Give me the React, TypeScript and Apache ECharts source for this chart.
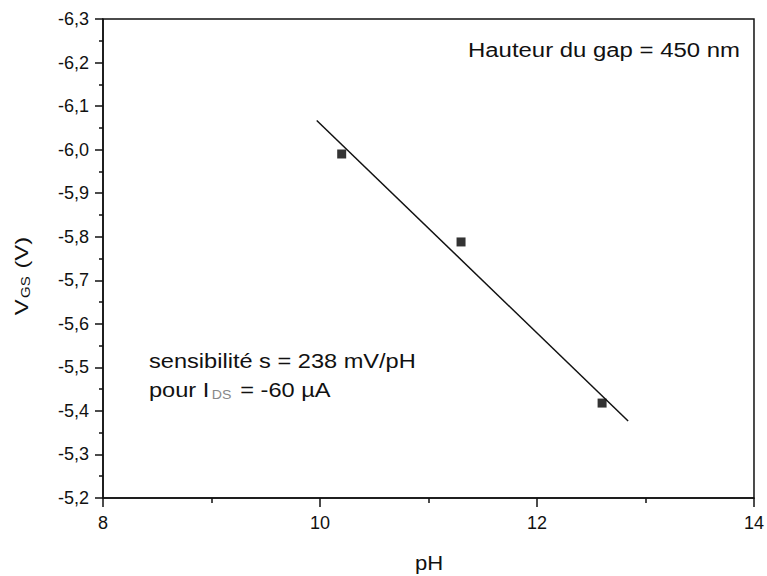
import React, { useEffect, useRef } from "react";
import * as echarts from "echarts";

const pH = [10.2, 11.3, 12.6];
const vgs = [-5.99, -5.788, -5.418];
const fitPH = [9.97, 12.84];
const fitVgs = [-6.067, -5.377];
const xTicks = { min: 8, max: 14, interval: 2 };
const yTicks = { min: -6.3, max: -5.2, interval: 0.1 };

const FONT = "'Liberation Sans', Arial, sans-serif";

export default function App() {
  const ref = useRef<HTMLDivElement>(null);
  useEffect(() => {
    if (!ref.current) return;
    const chart = echarts.init(ref.current, undefined, { renderer: "svg" });
    chart.setOption({
      animation: false,
      backgroundColor: "#fff",
      textStyle: { fontFamily: FONT },
      grid: {
        left: 103,
        right: 12,
        top: 19,
        bottom: 78,
        show: true,
        borderColor: "#111",
        borderWidth: 1.5,
        backgroundColor: "transparent",
      },
      xAxis: {
        type: "value",
        min: xTicks.min,
        max: xTicks.max,
        interval: xTicks.interval,
        axisLine: { show: true, lineStyle: { color: "#111", width: 1.5 } },
        axisTick: { show: true, length: 9, lineStyle: { color: "#111", width: 1.5 } },
        minorTick: { show: true, splitNumber: 2, length: 5, lineStyle: { color: "#111", width: 1.5 } },
        splitLine: { show: false },
        axisLabel: { color: "#111", fontSize: 18, margin: 16, fontFamily: FONT },
      },
      yAxis: {
        type: "value",
        inverse: true,
        min: yTicks.min,
        max: yTicks.max,
        interval: yTicks.interval,
        axisLine: { show: true, lineStyle: { color: "#111", width: 1.5 } },
        axisTick: { show: true, length: 8, lineStyle: { color: "#111", width: 1.5 } },
        minorTick: { show: true, splitNumber: 2, length: 4, lineStyle: { color: "#111", width: 1.5 } },
        splitLine: { show: false },
        axisLabel: {
          color: "#111",
          fontSize: 18,
          margin: 14,
          fontFamily: FONT,
          formatter: (v: number) => v.toFixed(1).replace(".", ","),
        },
      },
      series: [
        {
          type: "line",
          data: fitPH.map((x, i) => [x, fitVgs[i]]),
          showSymbol: false,
          symbol: "none",
          lineStyle: { color: "#111", width: 1.5 },
          silent: true,
        },
        {
          type: "scatter",
          data: pH.map((x, i) => [x, vgs[i]]),
          symbol: "rect",
          symbolSize: 9,
          itemStyle: { color: "#000" },
        },
      ],
      graphic: [
        {
          type: "text",
          x: 429,
          y: 563,
          scaleX: 1.05,
          style: {
            text: "pH",
            font: `21px ${FONT}`,
            fill: "#111",
            align: "center",
            verticalAlign: "middle",
          },
        },
        {
          type: "text",
          x: 26,
          y: 276,
          rotation: Math.PI / 2,
          scaleX: 1.25,
          style: {
            text: "{n|V}{sub|GS}{n| (V)}",
            fill: "#111",
            align: "center",
            verticalAlign: "middle",
            rich: {
              n: { fontSize: 19, fontFamily: FONT, fill: "#111", lineHeight: 19, padding: [0, 0, 8, 0] },
              sub: { fontSize: 12, fontFamily: FONT, fill: "#111", lineHeight: 12, padding: [0, 1, 0, 1] },
            },
          },
        },
        {
          type: "text",
          x: 468,
          y: 50,
          scaleX: 1.14,
          style: {
            text: "Hauteur du gap = 450 nm",
            font: `21px ${FONT}`,
            fill: "#111",
            align: "left",
            verticalAlign: "middle",
          },
        },
        {
          type: "text",
          x: 149,
          y: 361,
          scaleX: 1.18,
          style: {
            text: "sensibilité s = 238 mV/pH",
            font: `20px ${FONT}`,
            fill: "#111",
            align: "left",
            verticalAlign: "middle",
          },
        },
        {
          type: "text",
          x: 149,
          y: 395,
          scaleX: 1.18,
          style: {
            text: "{n|pour I}{sub|DS}{n| = -60 µA}",
            fill: "#111",
            align: "left",
            verticalAlign: "middle",
            rich: {
              n: { fontSize: 20, fontFamily: FONT, fill: "#111", lineHeight: 20, padding: [0, 0, 9, 0] },
              sub: { fontSize: 12, fontFamily: FONT, fill: "#888", lineHeight: 12, padding: [0, 2, 0, 2] },
            },
          },
        },
      ],
    });
    return () => chart.dispose();
  }, []);
  return (
    <div
      ref={ref}
      style={{ position: "fixed", left: 0, top: 0, width: 767, height: 576 }}
    />
  );
}
